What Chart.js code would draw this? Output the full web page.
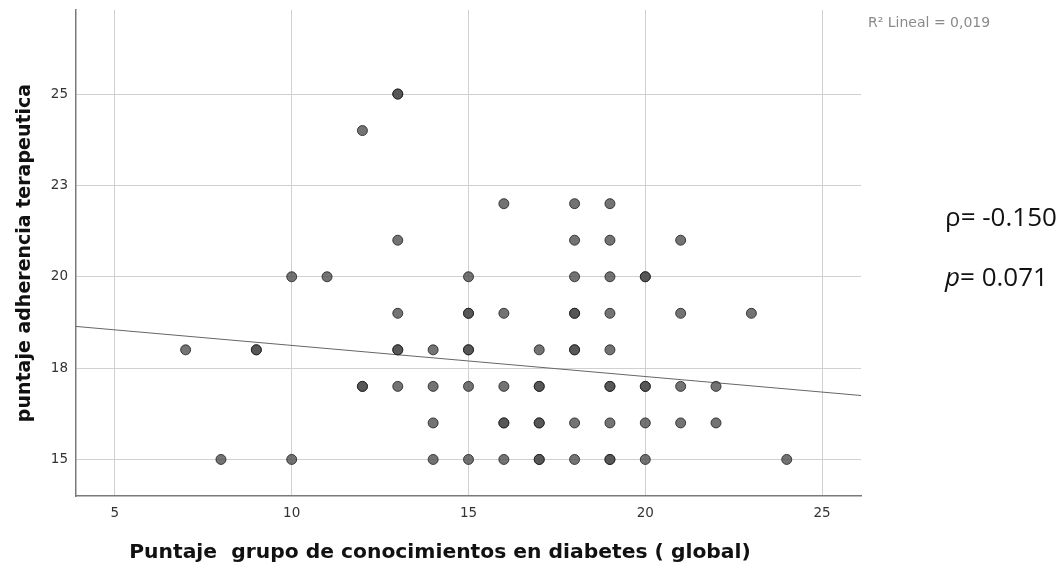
<!DOCTYPE html>
<html>
<head>
<meta charset="utf-8">
<script src="https://cdn.jsdelivr.net/npm/chart.js@4"></script>
<style>
  html, body { margin: 0; padding: 0; background: #fff; }
  #wrap { width: 1062px; height: 565px; position: relative; }
</style>
</head>
<body>
<div id="wrap"><canvas id="chart"></canvas></div>
<script>
// ── DATA ──
// knowledge score (x) and adherence score (y), one entry per patient (repeats = overlapping dots)
const conocimiento = [
  13, 13,
  12,
  16, 18, 19,
  13, 18, 19, 21,
  10, 11, 15, 18, 19, 20, 20,
  13, 15, 15, 16, 18, 18, 19, 21, 23,
  7, 9, 9, 13, 13, 14, 15, 15, 17, 18, 18, 19,
  12, 12, 13, 14, 15, 16, 17, 17, 19, 19, 20, 20, 21, 22,
  14, 16, 16, 17, 17, 18, 19, 20, 21, 22,
  8, 10, 14, 15, 16, 17, 17, 18, 19, 19, 20, 24
];
const adherencia = [
  25, 25,
  24,
  22, 22, 22,
  21, 21, 21, 21,
  20, 20, 20, 20, 20, 20, 20,
  19, 19, 19, 19, 19, 19, 19, 19, 19,
  18, 18, 18, 18, 18, 18, 18, 18, 18, 18, 18, 18,
  17, 17, 17, 17, 17, 17, 17, 17, 17, 17, 17, 17, 17, 17,
  16, 16, 16, 16, 16, 16, 16, 16, 16, 16,
  15, 15, 15, 15, 15, 15, 15, 15, 15, 15, 15, 15
];

// fit line end points (read at the plot edges)
const fitX = [3.9, 26.1];
const fitY = [18.64, 16.75];

const xTicks = [5, 10, 15, 20, 25];
const yTicks = [15, 17.5, 20, 22.5, 25];
const yTickLabels = ['15', '18', '20', '23', '25'];

const xRange = [3.9, 26.1];
const yRange = [14.0, 27.3];

const xTitle = 'Puntaje  grupo de conocimientos en diabetes ( global)';
const yTitle = 'puntaje adherencia terapeutica';

// ── BUILD ──
const points = conocimiento.map((x, i) => ({ x, y: adherencia[i] }));
const fitLine = fitX.map((x, i) => ({ x, y: fitY[i] }));

// x title and the notes on the right side
const notes = {
  id: 'notes',
  afterDraw(chart) {
    const ctx = chart.ctx;
    ctx.save();
    ctx.fillStyle = '#111';
    ctx.font = 'bold 20.3px "DejaVu Sans"';
    ctx.textAlign = 'center';
    ctx.textBaseline = 'alphabetic';
    ctx.fillText(xTitle, 440, 558);

    ctx.textAlign = 'left';
    ctx.textBaseline = 'middle';
    ctx.fillStyle = '#8a8a8a';
    ctx.font = '14px "DejaVu Sans"';
    ctx.fillText('R² Lineal = 0,019', 868, 23);

    ctx.fillStyle = '#111';
    ctx.font = '26px "Open Sans"';
    ctx.fillText('ρ= -0.150', 945, 219);
    ctx.font = 'italic 26px "Open Sans"';
    ctx.fillText('p', 945, 279);
    const w = ctx.measureText('p').width;
    ctx.font = '26px "Open Sans"';
    ctx.fillText('= 0.071', 945 + w, 279);
    ctx.restore();
  }
};

new Chart(document.getElementById('chart'), {
  type: 'scatter',
  data: {
    datasets: [
      {
        label: 'fit',
        type: 'line',
        data: fitLine,
        borderColor: '#666',
        borderWidth: 1,
        pointRadius: 0,
        fill: false,
        order: 2
      },
      {
        label: 'pacientes',
        data: points,
        pointRadius: 5,
        pointBackgroundColor: 'rgba(80,80,80,0.8)',
        pointBorderColor: 'rgba(30,30,30,0.8)',
        pointBorderWidth: 1,
        order: 1
      }
    ]
  },
  options: {
    responsive: true,
    maintainAspectRatio: false,
    animation: false,
    layout: { padding: { top: 10, right: 201, left: 0, bottom: 0 } },
    plugins: { legend: { display: false }, tooltip: { enabled: false } },
    scales: {
      x: {
        type: 'linear',
        min: xRange[0], max: xRange[1],
        afterBuildTicks: s => { s.ticks = xTicks.map(v => ({ value: v })); },
        afterFit: s => { s.height = 69; s.paddingLeft = 0; s.paddingRight = 0; },
        grid: { color: '#d0d0d0', drawTicks: false },
        border: { color: '#7a7a7a', width: 1.5 },
        ticks: { color: '#333', font: { family: 'DejaVu Sans', size: 13.5 }, padding: 9 }
      },
      y: {
        type: 'linear',
        min: yRange[0], max: yRange[1],
        afterBuildTicks: s => { s.ticks = yTicks.map(v => ({ value: v })); },
        afterFit: s => { s.width = 76; s.paddingTop = 0; s.paddingBottom = 0; },
        grid: { color: '#d0d0d0', drawTicks: false },
        border: { color: '#7a7a7a', width: 1.5 },
        ticks: {
          color: '#333', font: { family: 'DejaVu Sans', size: 13.5 }, padding: 8,
          callback: v => yTickLabels[yTicks.indexOf(v)]
        },
        title: {
          display: true,
          text: yTitle,
          color: '#111',
          font: { family: 'DejaVu Sans', size: 19, weight: 'bold' },
          padding: { top: 14, bottom: 0 }
        }
      }
    }
  },
  plugins: [notes]
});
</script>
</body>
</html>
